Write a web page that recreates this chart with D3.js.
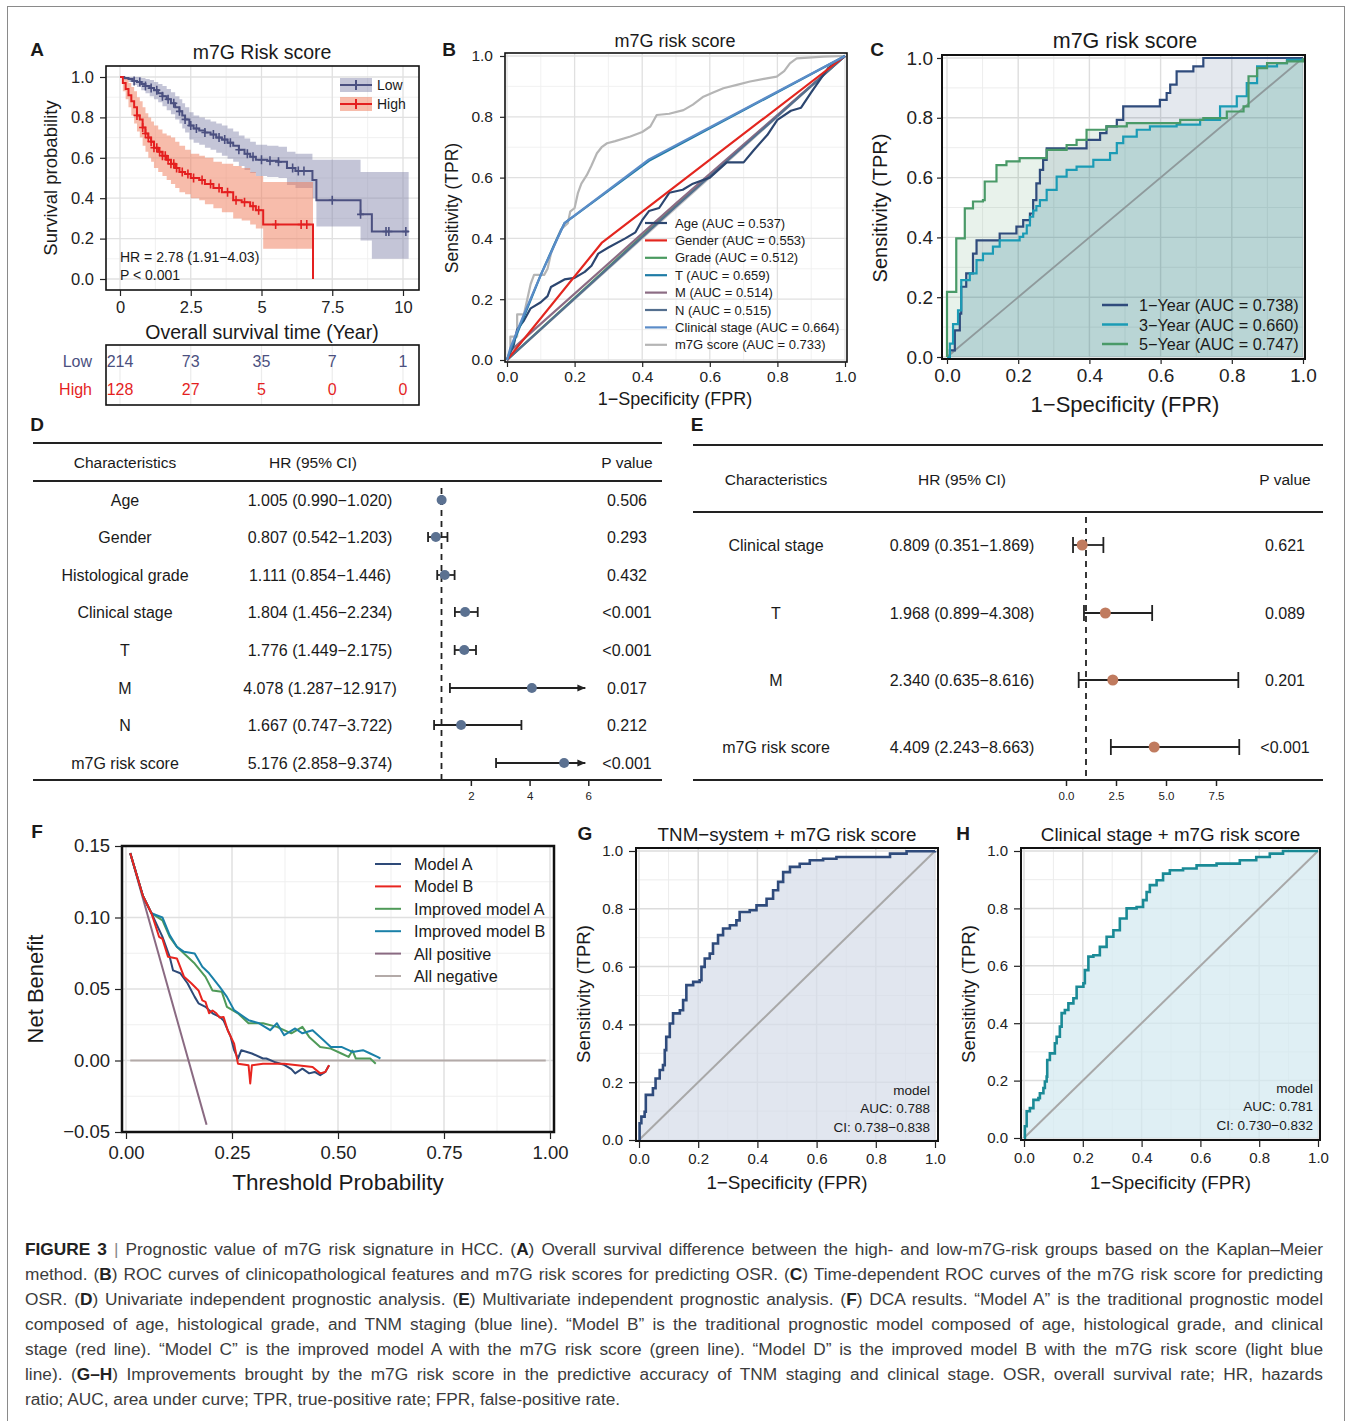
<!DOCTYPE html>
<html>
<head>
<meta charset="utf-8">
<title>Figure 3</title>
<script src="https://cdn.jsdelivr.net/npm/d3@7/dist/d3.min.js"></script>
<style>
  body { margin: 0; background: #fff; }
  svg text { font-family: "Liberation Sans", Arial, Helvetica, sans-serif; }
</style>
</head>
<body>
<div id="fig"></div>
<script>
// ---------------- data ----------------
// A: Kaplan-Meier
const kmYears = [0, 2.5, 5, 7.5, 10];
const riskLow = [214, 73, 35, 7, 1];
const riskHigh = [128, 27, 5, 0, 0];
const lowTime  = [0,0.15,0.3,0.45,0.6,0.75,0.9,1.05,1.2,1.35,1.5,1.65,1.8,1.95,2.1,2.2,2.3,2.45,2.6,2.8,3.0,3.2,3.4,3.6,3.8,4.0,4.2,4.4,4.6,4.8,5.2,5.6,5.9,6.2,6.8,6.94,8.5,8.9,10.2];
const lowSurv  = [1,0.995,0.99,0.98,0.975,0.965,0.955,0.945,0.935,0.92,0.905,0.89,0.87,0.85,0.83,0.81,0.79,0.76,0.745,0.735,0.725,0.715,0.70,0.69,0.675,0.66,0.64,0.62,0.605,0.59,0.585,0.58,0.55,0.535,0.49,0.39,0.32,0.235,0.235];
const lowUpper = [1,1,1,1,1,0.995,0.99,0.985,0.975,0.965,0.955,0.94,0.925,0.905,0.89,0.87,0.85,0.825,0.81,0.80,0.79,0.78,0.77,0.76,0.745,0.73,0.71,0.695,0.68,0.665,0.66,0.655,0.63,0.62,0.59,0.59,0.53,0.53,0.53];
const lowLower = [1,0.985,0.975,0.96,0.95,0.935,0.92,0.905,0.89,0.875,0.855,0.835,0.815,0.79,0.77,0.745,0.725,0.69,0.675,0.665,0.65,0.64,0.625,0.61,0.595,0.58,0.56,0.54,0.525,0.51,0.505,0.50,0.465,0.45,0.40,0.26,0.19,0.10,0.10];
const lowCensor = [0.5,0.7,0.9,1.1,1.3,1.5,1.7,1.9,2.1,2.3,2.5,2.7,3.0,3.3,3.5,3.7,3.9,4.2,4.5,4.7,5.0,5.3,5.6,6.1,6.3,6.5,7.5,8.5,9.4,9.5,10.1];
const highTime  = [0,0.1,0.2,0.3,0.4,0.5,0.6,0.7,0.8,0.9,1.0,1.1,1.2,1.35,1.5,1.65,1.8,1.95,2.1,2.3,2.5,2.8,3.0,3.3,3.6,4.0,4.3,4.6,4.8,5.06,6.82];
const highSurv  = [1,0.97,0.94,0.91,0.88,0.85,0.81,0.79,0.75,0.72,0.70,0.68,0.65,0.63,0.61,0.59,0.57,0.55,0.53,0.52,0.50,0.49,0.47,0.45,0.43,0.39,0.38,0.36,0.34,0.27,0];
const highUpper = [1,1,0.99,0.97,0.95,0.93,0.90,0.88,0.85,0.82,0.80,0.78,0.76,0.74,0.72,0.71,0.70,0.68,0.66,0.64,0.62,0.61,0.60,0.58,0.57,0.56,0.55,0.53,0.51,0.48,0.48];
const highLower = [1,0.93,0.89,0.85,0.81,0.77,0.73,0.70,0.66,0.63,0.60,0.58,0.55,0.53,0.51,0.49,0.47,0.45,0.43,0.42,0.40,0.39,0.37,0.35,0.33,0.30,0.29,0.27,0.25,0.15,0.15];
const highCensor = [0.6,0.8,0.9,1.0,1.1,1.2,1.3,1.4,1.5,1.6,1.7,1.8,1.9,2.0,2.2,2.4,2.6,2.9,3.2,3.5,3.8,4.1,4.4,4.7,4.9,5.5,6.4,6.6];

// B: ROC of clinicopathological features
const bLabels = ['Age (AUC = 0.537)','Gender (AUC = 0.553)','Grade (AUC = 0.512)','T (AUC = 0.659)','M (AUC = 0.514)','N (AUC = 0.515)','Clinical stage (AUC = 0.664)','m7G score (AUC = 0.733)'];
const bColors = ['#2c4670','#e3261f','#4a9a60','#1f7ca6','#8c6c84','#546f8f','#5b8cc8','#b5b5b5'];
const bAge = [[0,0],[0.02,0.05],[0.03,0.1],[0.05,0.13],[0.07,0.17],[0.1,0.19],[0.12,0.21],[0.13,0.24],[0.17,0.265],[0.2,0.27],[0.23,0.29],[0.25,0.31],[0.27,0.35],[0.3,0.37],[0.35,0.4],[0.38,0.42],[0.4,0.46],[0.42,0.49],[0.45,0.5],[0.48,0.55],[0.52,0.56],[0.55,0.58],[0.6,0.6],[0.65,0.65],[0.7,0.65],[0.73,0.69],[0.77,0.74],[0.8,0.79],[0.84,0.82],[0.87,0.83],[0.9,0.88],[0.95,0.96],[1,1]];
const bGender = [[0,0],[0.28,0.385],[1,1]];
const bGrade = [[0,0],[0.5,0.51],[1,1]];
const bT = [[0,0],[0.02,0.06],[0.06,0.17],[0.1,0.28],[0.14,0.38],[0.17,0.45],[0.42,0.655],[1,1]];
const bM = [[0,0],[0.01,0.03],[0.5,0.515],[1,1]];
const bN = [[0,0],[0.5,0.505],[1,1]];
const bStage = [[0,0],[0.01,0.04],[0.05,0.15],[0.1,0.28],[0.17,0.45],[0.42,0.66],[1,1]];
const bM7G = [[0,0],[0.01,0.02],[0.01,0.077],[0.03,0.077],[0.03,0.15],[0.05,0.15],[0.06,0.2],[0.07,0.25],[0.08,0.28],[0.11,0.28],[0.12,0.3],[0.13,0.35],[0.148,0.4],[0.16,0.43],[0.18,0.45],[0.187,0.488],[0.2,0.5],[0.21,0.55],[0.22,0.58],[0.236,0.608],[0.25,0.64],[0.266,0.68],[0.28,0.7],[0.296,0.713],[0.32,0.72],[0.365,0.735],[0.4,0.75],[0.424,0.768],[0.443,0.806],[0.48,0.81],[0.522,0.822],[0.55,0.84],[0.581,0.866],[0.61,0.88],[0.64,0.894],[0.68,0.905],[0.719,0.916],[0.76,0.925],[0.798,0.932],[0.82,0.95],[0.837,0.976],[0.857,0.992],[0.936,0.998],[1,1]];

// C: time-dependent ROC
const cLabels = ['1\u2212Year (AUC = 0.738)','3\u2212Year (AUC = 0.660)','5\u2212Year (AUC = 0.747)'];
const cColors = ['#2f4b7c','#1b9bb5','#4a9a68'];
const c1Year = [[0,0],[0.008,0.022],[0.022,0.089],[0.036,0.145],[0.04,0.235],[0.054,0.28],[0.073,0.346],[0.083,0.39],[0.139,0.39],[0.148,0.413],[0.186,0.413],[0.195,0.436],[0.214,0.458],[0.233,0.48],[0.242,0.525],[0.251,0.581],[0.261,0.626],[0.27,0.659],[0.28,0.698],[0.364,0.698],[0.392,0.726],[0.43,0.749],[0.448,0.771],[0.477,0.793],[0.495,0.838],[0.57,0.838],[0.598,0.86],[0.617,0.883],[0.627,0.911],[0.645,0.955],[0.664,0.955],[0.692,0.972],[0.72,1],[1,1]];
const c3Year = [[0,0],[0.008,0.045],[0.017,0.11],[0.031,0.156],[0.04,0.257],[0.064,0.28],[0.083,0.324],[0.101,0.346],[0.129,0.369],[0.148,0.39],[0.204,0.402],[0.214,0.413],[0.224,0.44],[0.233,0.469],[0.242,0.49],[0.251,0.505],[0.261,0.525],[0.28,0.559],[0.308,0.603],[0.336,0.626],[0.364,0.637],[0.411,0.659],[0.458,0.682],[0.477,0.715],[0.495,0.737],[0.533,0.76],[0.57,0.771],[0.645,0.777],[0.711,0.793],[0.767,0.838],[0.814,0.872],[0.842,0.916],[0.871,0.972],[0.927,0.983],[0.955,0.994],[1,1]];
const c5Year = [[0,0],[0,0.218],[0.026,0.218],[0.026,0.397],[0.05,0.397],[0.05,0.497],[0.073,0.497],[0.073,0.52],[0.101,0.525],[0.106,0.587],[0.139,0.587],[0.139,0.642],[0.167,0.654],[0.204,0.665],[0.27,0.665],[0.28,0.693],[0.336,0.709],[0.364,0.726],[0.392,0.76],[0.448,0.771],[0.505,0.782],[0.655,0.793],[0.72,0.799],[0.786,0.821],[0.833,0.838],[0.847,0.939],[0.871,0.966],[0.899,0.983],[0.955,0.989],[1,1]];

// D: univariate Cox
const dLabels = ['Age','Gender','Histological grade','Clinical stage','T','M','N','m7G risk score'];
const dHR   = [1.005,0.807,1.111,1.804,1.776,4.078,1.667,5.176];
const dLow  = [0.990,0.542,0.854,1.456,1.449,1.287,0.747,2.858];
const dHigh = [1.020,1.203,1.446,2.234,2.175,12.917,3.722,9.374];
const dP    = ['0.506','0.293','0.432','<0.001','<0.001','0.017','0.212','<0.001'];
const dTicks = [2, 4, 6];

// E: multivariate Cox
const eLabels = ['Clinical stage','T','M','m7G risk score'];
const eHR   = [0.809,1.968,2.340,4.409];
const eLow  = [0.351,0.899,0.635,2.243];
const eHigh = [1.869,4.308,8.616,8.663];
const eP    = ['0.621','0.089','0.201','<0.001'];
const eTicks = [0, 2.5, 5, 7.5];

// F: decision curves
const fLabels = ['Model A','Model B','Improved model A','Improved model B','All positive','All negative'];
const fColors = ['#2e4a78','#e8251f','#4f9a58','#1a80a8','#8a6a82','#b3aaa8'];
const fModelA = [[0.01,0.145],[0.04,0.115],[0.06,0.103],[0.086,0.0865],[0.103,0.0725],[0.111,0.063],[0.128,0.061],[0.145,0.054],[0.162,0.0445],[0.171,0.04],[0.1875,0.0375],[0.204,0.033],[0.221,0.0305],[0.23,0.028],[0.247,0.0165],[0.255,0.0072],[0.264,0.0014],[0.272,0.0072],[0.297,0.0049],[0.323,0.0014],[0.331,0.0014],[0.35,-0.001],[0.373,-0.003],[0.39,-0.006],[0.399,-0.009],[0.416,-0.0057],[0.432,-0.009],[0.445,-0.008],[0.458,-0.0103],[0.47,-0.008],[0.479,-0.0033]];
const fModelB = [[0.01,0.145],[0.04,0.115],[0.06,0.103],[0.078,0.0865],[0.086,0.085],[0.099,0.0725],[0.12,0.0714],[0.137,0.0585],[0.154,0.054],[0.171,0.049],[0.18,0.042],[0.1875,0.041],[0.196,0.033],[0.204,0.035],[0.213,0.033],[0.221,0.03],[0.23,0.0305],[0.24,0.021],[0.255,0.0118],[0.264,-0.0022],[0.289,-0.0033],[0.293,-0.016],[0.297,-0.0033],[0.323,-0.0022],[0.373,-0.0022],[0.44,-0.0045],[0.458,-0.009],[0.47,-0.008],[0.479,-0.0033]];
const fImpA = [[0.01,0.145],[0.04,0.115],[0.06,0.103],[0.086,0.098],[0.103,0.0865],[0.12,0.0795],[0.145,0.0725],[0.162,0.0678],[0.1875,0.0585],[0.204,0.049],[0.226,0.048],[0.238,0.0375],[0.264,0.033],[0.289,0.026],[0.323,0.026],[0.356,0.0235],[0.39,0.019],[0.416,0.0235],[0.432,0.0165],[0.458,0.0095],[0.483,0.0083],[0.508,0.0049],[0.525,0.0025],[0.534,0.007],[0.542,0.0014],[0.576,0.0014],[0.589,-0.0022]];
const fImpB = [[0.01,0.145],[0.04,0.115],[0.06,0.103],[0.086,0.1],[0.103,0.0877],[0.12,0.0795],[0.137,0.076],[0.162,0.0748],[0.18,0.0655],[0.196,0.061],[0.221,0.0515],[0.238,0.0445],[0.255,0.0352],[0.289,0.0282],[0.314,0.026],[0.34,0.0212],[0.356,0.026],[0.373,0.0177],[0.399,0.0224],[0.416,0.019],[0.44,0.0212],[0.466,0.0142],[0.483,0.0095],[0.508,0.0095],[0.534,0.006],[0.559,0.0072],[0.576,0.0049],[0.593,0.0025],[0.6,0.0014]];
const fAllPos = [[0.01,0.145],[0.19,-0.045]];
const fAllNeg = [[0.01,0],[0.99,0]];

// G, H: combined models
const gRoc = [[0,0],[0.002,0.058],[0.008,0.081],[0.019,0.098],[0.023,0.156],[0.042,0.156],[0.047,0.179],[0.056,0.213],[0.07,0.242],[0.081,0.259],[0.087,0.311],[0.092,0.357],[0.104,0.403],[0.115,0.438],[0.138,0.449],[0.149,0.484],[0.16,0.536],[0.183,0.547],[0.205,0.553],[0.211,0.599],[0.222,0.628],[0.239,0.645],[0.25,0.68],[0.267,0.709],[0.284,0.732],[0.307,0.743],[0.329,0.76],[0.34,0.789],[0.374,0.795],[0.397,0.812],[0.431,0.835],[0.453,0.864],[0.47,0.893],[0.487,0.927],[0.51,0.945],[0.543,0.956],[0.577,0.968],[0.622,0.973],[0.667,0.979],[0.758,0.979],[0.848,0.991],[0.904,0.999],[1,1]];
const gStats = ['model','AUC: 0.788','CI: 0.738\u22120.838'];
const hRoc = [[0,0],[0.003,0.041],[0.009,0.093],[0.02,0.104],[0.032,0.133],[0.049,0.139],[0.054,0.156],[0.066,0.174],[0.071,0.197],[0.077,0.214],[0.079,0.272],[0.088,0.295],[0.105,0.33],[0.111,0.353],[0.122,0.388],[0.128,0.435],[0.139,0.446],[0.151,0.469],[0.168,0.487],[0.179,0.527],[0.202,0.539],[0.207,0.585],[0.219,0.632],[0.236,0.637],[0.258,0.666],[0.281,0.701],[0.304,0.724],[0.326,0.765],[0.349,0.8],[0.383,0.805],[0.405,0.829],[0.417,0.857],[0.428,0.881],[0.451,0.898],[0.473,0.921],[0.496,0.933],[0.541,0.939],[0.587,0.95],[0.655,0.956],[0.734,0.968],[0.79,0.979],[0.836,0.991],[0.881,1],[1,1]];
const hStats = ['model','AUC: 0.781','CI: 0.730\u22120.832'];

const unitTicks = [0, 0.2, 0.4, 0.6, 0.8, 1];
const unitMinor = [0.1, 0.3, 0.5, 0.7, 0.9];

const captionLines = [
  '**FIGURE 3** | Prognostic value of m7G risk signature in HCC. (**A**) Overall survival difference between the high- and low-m7G-risk groups based on the Kaplan\u2013Meier',
  'method. (**B**) ROC curves of clinicopathological features and m7G risk scores for predicting OSR. (**C**) Time-dependent ROC curves of the m7G risk score for predicting',
  'OSR. (**D**) Univariate independent prognostic analysis. (**E**) Multivariate independent prognostic analysis. (**F**) DCA results. \u201cModel A\u201d is the traditional prognostic model',
  'composed of age, histological grade, and TNM staging (blue line). \u201cModel B\u201d is the traditional prognostic model composed of age, histological grade, and clinical',
  'stage (red line). \u201cModel C\u201d is the improved model A with the m7G risk score (green line). \u201cModel D\u201d is the improved model B with the m7G risk score (light blue',
  'line). (**G\u2013H**) Improvements brought by the m7G risk score in the predictive accuracy of TNM staging and clinical stage. OSR, overall survival rate; HR, hazards',
  'ratio; AUC, area under curve; TPR, true-positive rate; FPR, false-positive rate.'
];

// ---------------- helpers ----------------
const svg = d3.select('#fig').append('svg').attr('width', 1349).attr('height', 1421);
svg.append('rect').attr('width', 1349).attr('height', 1421).attr('fill', '#fff');
svg.append('rect').attr('x', 7.5).attr('y', 6.5).attr('width', 1337).attr('height', 1440)
  .attr('fill', 'none').attr('stroke', '#8a8a8a').attr('stroke-width', 1);

function txt(g, x, y, s, o) {
  o = o || {};
  return g.append('text').attr('x', x).attr('y', y).text(s)
    .attr('font-size', o.size || 14)
    .attr('font-weight', o.weight || null)
    .attr('fill', o.fill || '#1a1a1a')
    .attr('text-anchor', o.anchor || 'start')
    .attr('dominant-baseline', 'central')
    .attr('transform', o.rotate ? 'rotate(' + o.rotate + ',' + x + ',' + y + ')' : null);
}

function grid(g, x, y, box, xv, yv, color, w) {
  g.selectAll(null).data(xv).join('line')
    .attr('x1', d => x(d)).attr('x2', d => x(d)).attr('y1', box[2]).attr('y2', box[3])
    .attr('stroke', color).attr('stroke-width', w);
  g.selectAll(null).data(yv).join('line')
    .attr('y1', d => y(d)).attr('y2', d => y(d)).attr('x1', box[0]).attr('x2', box[1])
    .attr('stroke', color).attr('stroke-width', w);
}

function frame(g, box, w) {
  g.append('rect').attr('x', box[0]).attr('y', box[2])
    .attr('width', box[1] - box[0]).attr('height', box[3] - box[2])
    .attr('fill', 'none').attr('stroke', '#111').attr('stroke-width', w);
}

function axes(g, x, y, box, o) {
  const ax = g.append('g').attr('transform', 'translate(0,' + box[3] + ')')
    .call(d3.axisBottom(x).tickValues(o.xt).tickFormat(o.xf).tickSize(o.tick).tickPadding(o.padX));
  const ay = g.append('g').attr('transform', 'translate(' + box[0] + ',0)')
    .call(d3.axisLeft(y).tickValues(o.yt).tickFormat(o.yf).tickSize(o.tick).tickPadding(o.padY));
  [ax, ay].forEach(a => {
    a.select('.domain').remove();
    a.attr('font-size', o.size);
    a.selectAll('text').attr('fill', '#222');
    a.selectAll('line').attr('stroke', '#222').attr('stroke-width', 1.2);
  });
}

const f1 = d3.format('.1f'), f2 = d3.format('.2f');

// ---------------- A ----------------
const gA = svg.append('g');
const boxA = [106, 419, 66, 290];
const xA = d3.scaleLinear().domain([0, 10]).range([120, 403]);
const yA = d3.scaleLinear().domain([0, 1]).range([279, 77]);
grid(gA, xA, yA, boxA, [1.25, 3.75, 6.25, 8.75], unitMinor, '#efefef', 0.9);
grid(gA, xA, yA, boxA, kmYears, unitTicks, '#e0e0e0', 1.3);

const bandA = (t, lo, hi) => d3.area().curve(d3.curveStepAfter)
  .x((d, i) => xA(t[i])).y0((d, i) => yA(lo[i])).y1((d, i) => yA(hi[i]))(t);
const lineA = (t, s) => d3.line().curve(d3.curveStepAfter)
  .x((d, i) => xA(t[i])).y((d, i) => yA(s[i]))(t);
const lowCol = '#4b5080', highCol = '#e41f1f';
const lowFill = '#7d7fa6', highFill = '#f07a58';
gA.append('path').attr('d', bandA(lowTime, lowLower, lowUpper)).attr('fill', lowFill).attr('opacity', 0.45);
gA.append('path').attr('d', bandA(highTime, highLower, highUpper)).attr('fill', highFill).attr('opacity', 0.5);
gA.append('path').attr('d', lineA(lowTime, lowSurv)).attr('fill', 'none').attr('stroke', lowCol).attr('stroke-width', 2);
gA.append('path').attr('d', lineA(highTime, highSurv)).attr('fill', 'none').attr('stroke', highCol).attr('stroke-width', 2);

function survAt(times, surv, t) {
  const i = Math.max(0, d3.bisectRight(times, t) - 1);
  return surv[i];
}
function censor(times, surv, marks, col) {
  gA.selectAll(null).data(marks).join('path')
    .attr('d', d => {
      const cx = xA(d), cy = yA(survAt(times, surv, d));
      return 'M' + (cx - 3.5) + ',' + cy + 'H' + (cx + 3.5) + 'M' + cx + ',' + (cy - 4.5) + 'V' + (cy + 4.5);
    })
    .attr('stroke', col).attr('stroke-width', 1.6).attr('fill', 'none');
}
censor(lowTime, lowSurv, lowCensor, lowCol);
censor(highTime, highSurv, highCensor, highCol);
frame(gA, boxA, 1.6);
axes(gA, xA, yA, boxA, { xt: kmYears, yt: unitTicks, xf: d3.format(''), yf: f1, tick: 6, padX: 5, padY: 6, size: 16.5 });

// legend
[['Low', lowCol, lowFill, 0.45, 85], ['High', highCol, highFill, 0.5, 104]].forEach(r => {
  gA.append('rect').attr('x', 340).attr('y', r[4] - 7).attr('width', 32).attr('height', 14).attr('fill', r[2]).attr('opacity', r[3]);
  gA.append('path').attr('d', 'M340,' + r[4] + 'H372M356,' + (r[4] - 5) + 'V' + (r[4] + 5))
    .attr('stroke', r[1]).attr('stroke-width', 2);
  txt(gA, 377, r[4], r[0], { size: 14 });
});
txt(gA, 120, 257, 'HR = 2.78 (1.91\u22124.03)', { size: 14 });
txt(gA, 120, 275, 'P < 0.001', { size: 14 });
txt(gA, 262, 52, 'm7G Risk score', { size: 19.5, anchor: 'middle' });
txt(gA, 50, 178, 'Survival probability', { size: 18.5, anchor: 'middle', rotate: -90 });
txt(gA, 262, 332, 'Overall survival time (Year)', { size: 19.5, anchor: 'middle' });

// risk table
const boxT = [106, 419, 345, 405];
grid(gA, xA, yA, [boxT[0], boxT[1], boxT[2], boxT[3]], kmYears, [], '#ececec', 1.2);
frame(gA, boxT, 1.6);
txt(gA, 92, 361, 'Low', { size: 16, fill: lowCol, anchor: 'end' });
txt(gA, 92, 389, 'High', { size: 16, fill: highCol, anchor: 'end' });
gA.selectAll(null).data(riskLow).join('text')
  .attr('x', (d, i) => xA(kmYears[i])).attr('y', 361).text(d => d)
  .attr('font-size', 16).attr('fill', lowCol).attr('text-anchor', 'middle').attr('dominant-baseline', 'central');
gA.selectAll(null).data(riskHigh).join('text')
  .attr('x', (d, i) => xA(kmYears[i])).attr('y', 389).text(d => d)
  .attr('font-size', 16).attr('fill', highCol).attr('text-anchor', 'middle').attr('dominant-baseline', 'central');

// ---------------- B ----------------
const gB = svg.append('g');
const boxB = [505, 847, 53, 362];
const xB = d3.scaleLinear().domain([0, 1]).range([507, 845]);
const yB = d3.scaleLinear().domain([0, 1]).range([360, 56]);
grid(gB, xB, yB, boxB, unitMinor, unitMinor, '#efefef', 0.9);
grid(gB, xB, yB, boxB, unitTicks, unitTicks, '#e0e0e0', 1.3);
const lineB = d3.line().x(d => xB(d[0])).y(d => yB(d[1]));
gB.append('path').attr('d', lineB([[0, 0], [1, 1]])).attr('stroke', '#c8c8c8').attr('stroke-width', 2).attr('fill', 'none');
const bSeries = [bAge, bGender, bGrade, bT, bM, bN, bStage, bM7G];
const bOrder = [7, 2, 4, 5, 0, 1, 3, 6];
bOrder.forEach(i => {
  gB.append('path').attr('d', lineB(bSeries[i])).attr('fill', 'none')
    .attr('stroke', bColors[i]).attr('stroke-width', 2.2).attr('stroke-linejoin', 'round');
});
frame(gB, boxB, 1.6);
axes(gB, xB, yB, boxB, { xt: unitTicks, yt: unitTicks, xf: f1, yf: f1, tick: 5, padX: 4, padY: 7, size: 15.5 });
bLabels.forEach((s, i) => {
  const yy = 223 + i * 17.4;
  gB.append('line').attr('x1', 645).attr('x2', 667).attr('y1', yy).attr('y2', yy)
    .attr('stroke', bColors[i]).attr('stroke-width', 2.2);
  txt(gB, 675, yy, s, { size: 13 });
});
txt(gB, 675, 41, 'm7G risk score', { size: 18, anchor: 'middle' });
txt(gB, 452, 208, 'Sensitivity (TPR)', { size: 17.5, anchor: 'middle', rotate: -90 });
txt(gB, 675, 399, '1\u2212Specificity (FPR)', { size: 18, anchor: 'middle' });

// ---------------- C ----------------
const gC = svg.append('g');
const boxC = [942, 1305, 55, 359];
const xC = d3.scaleLinear().domain([0, 1]).range([947, 1303]);
const yC = d3.scaleLinear().domain([0, 1]).range([357, 58]);
grid(gC, xC, yC, boxC, unitMinor, unitMinor, '#ededed', 1);
grid(gC, xC, yC, boxC, unitTicks, unitTicks, '#dedede', 1.4);
const areaC = d3.area().curve(d3.curveStepAfter).x(d => xC(d[0])).y0(yC(0)).y1(d => yC(d[1]));
const lineC = d3.line().curve(d3.curveStepAfter).x(d => xC(d[0])).y(d => yC(d[1]));
const cSeries = [c1Year, c3Year, c5Year];
cSeries.forEach((s, i) => {
  gC.append('path').attr('d', areaC(s)).attr('fill', cColors[i]).attr('opacity', 0.13);
});
gC.append('line').attr('x1', xC(0)).attr('y1', yC(0)).attr('x2', xC(1)).attr('y2', yC(1))
  .attr('stroke', '#8f9a9c').attr('stroke-width', 1.8);
cSeries.forEach((s, i) => {
  gC.append('path').attr('d', lineC(s)).attr('fill', 'none').attr('stroke', cColors[i]).attr('stroke-width', 2.2);
});
frame(gC, boxC, 2);
axes(gC, xC, yC, boxC, { xt: unitTicks, yt: unitTicks, xf: f1, yf: f1, tick: 5, padX: 5, padY: 4, size: 19 });
cLabels.forEach((s, i) => {
  const yy = 305 + i * 19.5;
  gC.append('line').attr('x1', 1102).attr('x2', 1128).attr('y1', yy).attr('y2', yy)
    .attr('stroke', cColors[i]).attr('stroke-width', 2.5);
  txt(gC, 1139, yy, s, { size: 16.2 });
});
txt(gC, 1125, 41, 'm7G risk score', { size: 21.5, anchor: 'middle' });
txt(gC, 880, 208, 'Sensitivity (TPR)', { size: 20, anchor: 'middle', rotate: -90 });
txt(gC, 1125, 404, '1\u2212Specificity (FPR)', { size: 22, anchor: 'middle' });

// ---------------- forest plots ----------------
const ciText = (hr, lo, hi) => d3.format('.3f')(hr) + ' (' + d3.format('.3f')(lo) + '\u2212' + d3.format('.3f')(hi) + ')';

function forest(o) {
  const g = svg.append('g');
  const x = o.x;
  [o.top, o.head2, o.bottom].forEach(yy => {
    g.append('line').attr('x1', o.left).attr('x2', o.right).attr('y1', yy).attr('y2', yy)
      .attr('stroke', '#222').attr('stroke-width', 2);
  });
  txt(g, o.colLab, o.headY, 'Characteristics', { size: 15.5, anchor: 'middle' });
  txt(g, o.colHRhead, o.headY, 'HR (95% CI)', { size: 15.5, anchor: 'middle' });
  txt(g, o.colP, o.headY, 'P value', { size: 15.5, anchor: 'middle' });
  g.append('line').attr('x1', x(1)).attr('x2', x(1)).attr('y1', o.dashTop).attr('y2', o.bottom)
    .attr('stroke', '#222').attr('stroke-width', 1.8).attr('stroke-dasharray', '6,5');
  o.labels.forEach((lab, i) => {
    const yy = o.rows[i];
    txt(g, o.colLab, yy, lab, { size: 16, anchor: 'middle' });
    txt(g, o.colHR, yy, ciText(o.hr[i], o.lo[i], o.hi[i]), { size: 16, anchor: 'middle' });
    txt(g, o.colP, yy, o.p[i], { size: 16, anchor: 'middle' });
    const xl = x(o.lo[i]);
    const clipped = o.hi[i] > o.maxV;
    const xh = x(Math.min(o.hi[i], o.maxV));
    g.append('line').attr('x1', xl).attr('x2', xh).attr('y1', yy).attr('y2', yy)
      .attr('stroke', '#222').attr('stroke-width', 1.8);
    g.append('line').attr('x1', xl).attr('x2', xl).attr('y1', yy - o.cap).attr('y2', yy + o.cap)
      .attr('stroke', '#222').attr('stroke-width', 1.8);
    if (clipped) {
      g.append('path').attr('d', 'M' + xh + ',' + yy + 'L' + (xh - 8) + ',' + (yy - 3.5) + 'L' + (xh - 8) + ',' + (yy + 3.5) + 'Z')
        .attr('fill', '#222');
    } else {
      g.append('line').attr('x1', xh).attr('x2', xh).attr('y1', yy - o.cap).attr('y2', yy + o.cap)
        .attr('stroke', '#222').attr('stroke-width', 1.8);
    }
    g.append('circle').attr('cx', x(o.hr[i])).attr('cy', yy).attr('r', o.r).attr('fill', o.color);
  });
  const ax = g.append('g').attr('transform', 'translate(0,' + o.bottom + ')')
    .call(d3.axisBottom(x).tickValues(o.ticks).tickFormat(o.tf).tickSize(6).tickPadding(6));
  ax.select('.domain').remove();
  ax.attr('font-size', 11.5);
  ax.selectAll('text').attr('fill', '#222');
  ax.selectAll('line').attr('stroke', '#222').attr('stroke-width', 1.5);
  return g;
}

const xD = d3.scaleLinear().domain([1, 6]).range([441.5, 588.3]);
const gD = forest({
  x: xD, left: 33, right: 662, top: 443, head2: 481, bottom: 780, headY: 462, dashTop: 488,
  colLab: 125, colHR: 320, colHRhead: 313, colP: 627,
  labels: dLabels, hr: dHR, lo: dLow, hi: dHigh, p: dP, rows: [500, 537, 575, 612, 650, 688, 725, 763],
  maxV: 5.9, cap: 5, r: 5, color: '#5b7191', ticks: dTicks, tf: d3.format('')
});
txt(gD, 37, 424, 'D', { size: 19, weight: 'bold', anchor: 'middle' });

const xE = d3.scaleLinear().domain([0, 7.5]).range([1066, 1216]);
const gE = forest({
  x: xE, left: 693, right: 1323, top: 445, head2: 512, bottom: 780, headY: 479, dashTop: 517,
  colLab: 776, colHR: 962, colHRhead: 962, colP: 1285,
  labels: eLabels, hr: eHR, lo: eLow, hi: eHigh, p: eP, rows: [545, 613, 680, 747],
  maxV: 99, cap: 8, r: 5.5, color: '#c07b5f', ticks: eTicks, tf: f1
});
txt(gE, 697, 424, 'E', { size: 19, weight: 'bold', anchor: 'middle' });

// ---------------- F ----------------
const gF = svg.append('g');
const boxF = [122, 554, 846, 1132];
const xF = d3.scaleLinear().domain([0, 1]).range([126, 550]);
const yF = d3.scaleLinear().domain([-0.05, 0.15]).range([1132, 846]);
const fXt = [0, 0.25, 0.5, 0.75, 1], fYt = [-0.05, 0, 0.05, 0.1, 0.15];
grid(gF, xF, yF, boxF, [0.125, 0.375, 0.625, 0.875], [-0.025, 0.025, 0.075, 0.125], '#efefef', 1);
grid(gF, xF, yF, boxF, fXt, fYt, '#e0e0e0', 1.5);
const lineF = d3.line().x(d => xF(d[0])).y(d => yF(d[1]));
const fSeries = [fModelA, fModelB, fImpA, fImpB, fAllPos, fAllNeg];
[5, 4, 2, 3, 0, 1].forEach(i => {
  gF.append('path').attr('d', lineF(fSeries[i])).attr('fill', 'none')
    .attr('stroke', fColors[i]).attr('stroke-width', 2).attr('stroke-linejoin', 'round');
});
frame(gF, boxF, 2.5);
axes(gF, xF, yF, boxF, { xt: fXt, yt: fYt, xf: f2, yf: f2, tick: 7, padX: 7, padY: 5, size: 18.5 });
fLabels.forEach((s, i) => {
  const yy = 864 + i * 22.4;
  gF.append('line').attr('x1', 375).attr('x2', 401).attr('y1', yy).attr('y2', yy)
    .attr('stroke', fColors[i]).attr('stroke-width', 2);
  txt(gF, 414, yy, s, { size: 16.2 });
});
txt(gF, 35, 989, 'Net Benefit', { size: 22, anchor: 'middle', rotate: -90 });
txt(gF, 338, 1182, 'Threshold Probability', { size: 22.5, anchor: 'middle' });
txt(gF, 37, 831, 'F', { size: 19, weight: 'bold', anchor: 'middle' });

// ---------------- G, H ----------------
function rocPanel(o) {
  const g = svg.append('g');
  const x = d3.scaleLinear().domain([0, 1]).range(o.xr);
  const y = d3.scaleLinear().domain([0, 1]).range(o.yr);
  grid(g, x, y, o.box, unitMinor, unitMinor, '#ececec', 1);
  grid(g, x, y, o.box, unitTicks, unitTicks, '#dcdcdc', 1.5);
  g.append('path').attr('d', d3.area().curve(d3.curveStepAfter).x(d => x(d[0])).y0(y(0)).y1(d => y(d[1]))(o.data))
    .attr('fill', o.fill).attr('opacity', 0.75);
  g.append('line').attr('x1', x(0)).attr('y1', y(0)).attr('x2', x(1)).attr('y2', y(1))
    .attr('stroke', '#a8a8a8').attr('stroke-width', 2);
  g.append('path').attr('d', d3.line().curve(d3.curveStepAfter).x(d => x(d[0])).y(d => y(d[1]))(o.data))
    .attr('fill', 'none').attr('stroke', o.color).attr('stroke-width', 2.6);
  frame(g, o.box, 2);
  axes(g, x, y, o.box, { xt: unitTicks, yt: unitTicks, xf: f1, yf: f1, tick: 7, padX: 5, padY: 6, size: 15 });
  o.stats.forEach((s, i) => txt(g, o.statX, o.statY + i * 18.5, s, { size: 13.5, anchor: 'end' }));
  const cx = (o.box[0] + o.box[1]) / 2;
  txt(g, cx, 834, o.title, { size: 18.8, anchor: 'middle' });
  txt(g, o.yTitleX, 994, 'Sensitivity (TPR)', { size: 18.5, anchor: 'middle', rotate: -90 });
  txt(g, cx, 1182, '1\u2212Specificity (FPR)', { size: 18.8, anchor: 'middle' });
  txt(g, o.letterX, 833, o.letter, { size: 19, weight: 'bold', anchor: 'middle' });
}
rocPanel({ box: [636, 938, 848, 1141], xr: [639, 935], yr: [1140, 851], data: gRoc, fill: '#d7deea', color: '#2f4b7c',
  stats: gStats, statX: 930, statY: 1090, title: 'TNM\u2212system + m7G risk score', yTitleX: 583, letter: 'G', letterX: 585 });
rocPanel({ box: [1021, 1320, 848, 1140], xr: [1024, 1318], yr: [1138, 851], data: hRoc, fill: '#d4eaf0', color: '#1a8a96',
  stats: hStats, statX: 1313, statY: 1088, title: 'Clinical stage + m7G risk score', yTitleX: 968, letter: 'H', letterX: 963 });

// panel letters A-C
txt(svg, 37, 49, 'A', { size: 19, weight: 'bold', anchor: 'middle' });
txt(svg, 449, 49, 'B', { size: 19, weight: 'bold', anchor: 'middle' });
txt(svg, 877, 49, 'C', { size: 19, weight: 'bold', anchor: 'middle' });

// ---------------- caption ----------------
const capG = svg.append('g');
const capLeft = 25, capRight = 1323, capSize = 17.3;
captionLines.forEach((line, li) => {
  const t = capG.append('text').attr('x', capLeft).attr('y', 1249 + li * 25)
    .attr('font-size', capSize).attr('fill', '#3c3c3c').attr('dominant-baseline', 'central')
    .attr('xml:space', 'preserve');
  line.split(/(\*\*[^*]+\*\*)/).filter(s => s.length).forEach(seg => {
    if (seg.startsWith('**')) {
      t.append('tspan').attr('font-weight', 'bold').attr('fill', '#222').text(seg.slice(2, -2));
    } else if (seg.startsWith(' | ')) {
      t.append('tspan').text(' ');
      t.append('tspan').attr('fill', '#888').text('|');
      t.append('tspan').text(seg.slice(2));
    } else {
      t.append('tspan').text(seg);
    }
  });
  if (li < captionLines.length - 1) {
    const natural = t.node().getComputedTextLength();
    const spaces = (line.match(/ /g) || []).length;
    t.attr('word-spacing', (capRight - capLeft - natural) / spaces);
  }
});
</script>
</body>
</html>
